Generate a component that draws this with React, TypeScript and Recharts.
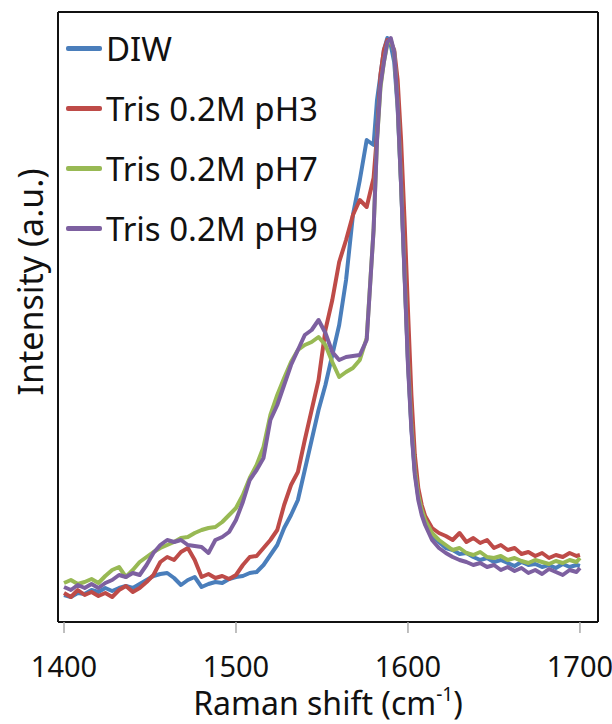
import { LineChart, Line, XAxis, YAxis, Legend } from "recharts";

const FONT = '"Noto Sans", "DejaVu Sans", sans-serif';

// Raman shift grid (cm-1), denser around the G band
const wavenumber = [
  1400, 1404, 1408, 1412, 1416, 1420, 1424, 1428, 1432, 1436,
  1440, 1444, 1448, 1452, 1456, 1460, 1464, 1468, 1472, 1476,
  1480, 1484, 1488, 1492, 1496, 1500, 1504, 1508, 1512, 1516,
  1520, 1524, 1528, 1532, 1536, 1540, 1544, 1548, 1552, 1556,
  1560, 1564, 1568, 1572, 1576, 1580, 1582, 1584, 1586, 1588,
  1590, 1592, 1594, 1596, 1598, 1600, 1602, 1604, 1606, 1608,
  1610, 1614, 1618, 1622, 1626, 1630, 1634, 1638, 1642, 1646,
  1650, 1654, 1658, 1662, 1666, 1670, 1674, 1678, 1682, 1686,
  1690, 1694, 1698, 1700,
];

// intensities (a.u.)
const diw = [
  27, 25, 29, 28, 32, 30, 34, 31, 34, 36,
  34, 38, 42, 46, 48, 49, 44, 37, 42, 45,
  35, 38, 40, 39, 43, 45, 46, 49, 50, 57,
  67, 77, 94, 107, 122, 152, 182, 212, 237, 267,
  297, 342, 407, 442, 482, 477, 522, 547, 572, 584,
  577, 560, 514, 437, 350, 260, 194, 150, 125, 110,
  100, 87, 80, 74, 72, 68, 69, 65, 62, 64,
  60, 62, 59, 56, 60, 57, 58, 55, 57, 54,
  58, 55, 57, 56,
];

const trisPh3 = [
  29, 25, 32, 27, 30, 26, 29, 25, 32, 36,
  30, 34, 40, 47, 60, 65, 62, 70, 74, 62,
  45, 48, 44, 46, 43, 47, 57, 65, 66, 74,
  82, 92, 117, 137, 150, 182, 212, 242, 292, 322,
  360, 382, 407, 422, 415, 444, 487, 547, 572, 582,
  580, 572, 542, 482, 402, 312, 227, 167, 134, 117,
  106, 94, 89, 86, 82, 89, 80, 84, 79, 82,
  74, 77, 72, 74, 68, 70, 66, 69, 64, 67,
  65, 69, 66, 67,
];

const trisPh7 = [
  39, 42, 38, 40, 43, 39, 46, 52, 55, 45,
  52, 60, 65, 70, 74, 77, 80, 84, 85, 89,
  92, 94, 95, 100, 107, 114, 127, 144, 157, 175,
  207, 227, 244, 260, 272, 277, 280, 285, 277, 260,
  245, 250, 254, 262, 284, 392, 482, 534, 560, 578,
  582, 570, 518, 438, 350, 262, 197, 152, 127, 112,
  102, 89, 82, 77, 72, 74, 69, 67, 70, 65,
  64, 66, 62, 64, 61, 59, 62, 60, 58, 61,
  59, 62, 60, 64,
];

const trisPh9 = [
  35, 32, 37, 34, 38, 34, 39, 42, 47, 45,
  49, 47, 57, 69, 77, 82, 80, 82, 77, 76,
  75, 69, 82, 85, 90, 102, 120, 142, 152, 164,
  202, 217, 237, 257, 272, 287, 292, 302, 289, 270,
  262, 265, 266, 267, 282, 392, 482, 537, 560, 580,
  584, 570, 517, 437, 347, 257, 192, 147, 122, 107,
  97, 82, 74, 69, 65, 62, 60, 57, 59, 55,
  57, 52, 55, 51, 54, 49, 52, 48, 53, 50,
  47, 52, 50, 54,
];

const seriesNames = ["DIW", "Tris 0.2M pH3", "Tris 0.2M pH7", "Tris 0.2M pH9"];
const seriesColors = ["#4A7EBB", "#BE4B48", "#98B954", "#7D60A0"];
const seriesValues = [diw, trisPh3, trisPh7, trisPh9];

const xTicks = [1400, 1500, 1600, 1700];
const xDomain = [1396.5, 1710.5];
const yDomain = [0, 610];
const yTicks = Array.from({ length: 13 }, (_, k) => (k * yDomain[1]) / 12);

const chartData = wavenumber.map((x, i) => {
  const row: Record<string, number> = { x };
  seriesNames.forEach((name, s) => {
    row[name] = seriesValues[s][i];
  });
  return row;
});

function LegendBox() {
  return (
    <div style={{ fontFamily: FONT, fontSize: 33, color: "#111" }}>
      {seriesNames.map((name, i) => (
        <div key={name} style={{ display: "flex", alignItems: "center", height: 60 }}>
          <span style={{ display: "inline-block", width: 36, height: 5, borderRadius: 2, background: seriesColors[i], marginRight: 4 }} />
          <span style={{ whiteSpace: "nowrap" }}>{name}</span>
        </div>
      ))}
    </div>
  );
}

function XTitle(props: any) {
  const { x, y, width } = props.viewBox;
  return (
    <text x={x + width / 2} y={y + 93} textAnchor="middle" fontFamily={FONT} fontSize={32} fill="#111">
      Raman shift (cm
      <tspan dy={-14} fontSize={19}>-1</tspan>
      <tspan dy={14}>)</tspan>
    </text>
  );
}

function YTitle() {
  const cx = 30;
  const cy = 282;
  return (
    <text x={cx} y={cy} transform={`rotate(-90 ${cx} ${cy})`} textAnchor="middle" dominantBaseline="central" fontFamily={FONT} fontSize={34} fill="#111">
      Intensity (a.u.)
    </text>
  );
}

export default function App() {
  return (
    <div style={{ position: "absolute", left: 0, top: 0, background: "#fff" }}>
      <LineChart width={612} height={724} data={chartData} margin={{ top: 11, right: 14, bottom: 42, left: 58 }}>
        <XAxis
          dataKey="x"
          type="number"
          domain={xDomain}
          ticks={xTicks}
          allowDataOverflow
          height={60}
          axisLine={{ stroke: "#111", strokeWidth: 2 }}
          tickLine={{ stroke: "#aaa", strokeWidth: 1.5 }}
          tickSize={11}
          tickMargin={23}
          tick={{ fill: "#111", fontSize: 29, fontFamily: FONT }}
          label={<XTitle />}
        />
        <XAxis
          xAxisId="top"
          orientation="top"
          type="number"
          domain={xDomain}
          height={1}
          tick={false}
          tickLine={false}
          axisLine={{ stroke: "#111", strokeWidth: 2 }}
        />
        <YAxis
          type="number"
          domain={yDomain}
          ticks={yTicks}
          mirror
          width={1}
          tick={false}
          tickSize={5}
          tickLine={{ stroke: "#555" }}
          axisLine={{ stroke: "#111", strokeWidth: 2 }}
          label={<YTitle />}
        />
        <YAxis
          yAxisId="right"
          orientation="right"
          type="number"
          domain={yDomain}
          ticks={yTicks}
          mirror
          width={1}
          tick={false}
          tickSize={5}
          tickLine={{ stroke: "#555" }}
          axisLine={{ stroke: "#111", strokeWidth: 2 }}
        />
        <Legend
          layout="horizontal"
          verticalAlign="middle"
          align="center"
          width={300}
          wrapperStyle={{ left: 66, top: 18 }}
          content={() => <LegendBox />}
        />
        {seriesNames.map((name, i) => (
          <Line
            key={name}
            type="linear"
            dataKey={name}
            stroke={seriesColors[i]}
            strokeWidth={4}
            strokeLinejoin="round"
            dot={false}
            isAnimationActive={false}
          />
        ))}
      </LineChart>
    </div>
  );
}
